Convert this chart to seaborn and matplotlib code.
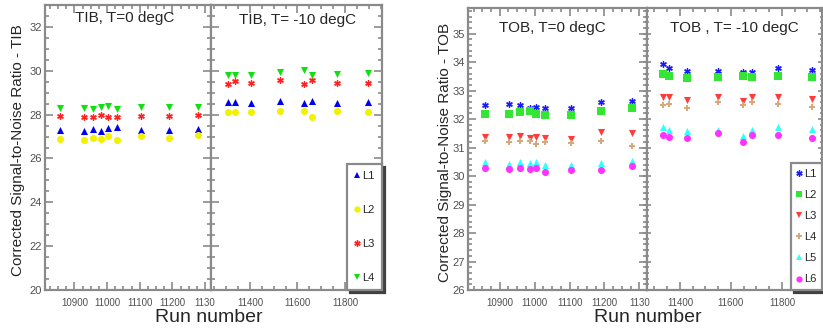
import numpy as np
import pandas as pd
import matplotlib
matplotlib.use("Agg")
import matplotlib.pyplot as plt
from matplotlib.ticker import MultipleLocator, FixedLocator
import seaborn as sns

# ── TIB data ──
TIB_RUNS_T0 = [10855, 10930, 10956, 10982, 11003, 11030, 11103, 11188, 11279]
TIB_T0 = {
    "L1": [27.30, 27.26, 27.35, 27.26, 27.41, 27.45, 27.32, 27.32, 27.36],
    "L2": [26.88, 26.82, 26.95, 26.89, 27.03, 26.86, 27.01, 26.92, 27.08],
    "L3": [27.95, 27.90, 27.90, 27.98, 27.88, 27.90, 27.95, 27.95, 27.98],
    "L4": [28.32, 28.32, 28.26, 28.33, 28.41, 28.26, 28.35, 28.33, 28.36],
}
TIB_RUNS_M10 = [11307, 11337, 11404, 11526, 11628, 11661, 11766, 11897]
TIB_M10 = {
    "L1": [28.59, 28.59, 28.51, 28.62, 28.51, 28.62, 28.51, 28.58],
    "L2": [28.14, 28.10, 28.12, 28.18, 28.15, 27.91, 28.15, 28.12],
    "L3": [29.40, 29.55, 29.42, 29.58, 29.40, 29.56, 29.42, 29.42],
    "L4": [29.80, 29.80, 29.80, 29.95, 30.05, 29.80, 29.86, 29.88],
}

# ── TOB data ──
TOB_RUNS_T0 = [10857, 10926, 10957, 10986, 11003, 11031, 11103, 11189, 11280]
TOB_T0 = {
    "L1": [32.49, 32.52, 32.49, 32.38, 32.43, 32.40, 32.40, 32.61, 32.64],
    "L2": [32.19, 32.19, 32.24, 32.28, 32.19, 32.15, 32.15, 32.27, 32.39],
    "L3": [31.36, 31.38, 31.41, 31.33, 31.36, 31.33, 31.30, 31.53, 31.51],
    "L4": [31.22, 31.20, 31.23, 31.23, 31.11, 31.18, 31.15, 31.23, 31.06],
    "L5": [30.50, 30.42, 30.50, 30.45, 30.50, 30.40, 30.39, 30.45, 30.54],
    "L6": [30.27, 30.24, 30.27, 30.25, 30.27, 30.14, 30.21, 30.21, 30.34],
}
TOB_RUNS_M10 = [11333, 11357, 11427, 11549, 11647, 11682, 11784, 11918]
TOB_M10 = {
    "L1": [33.93, 33.81, 33.69, 33.69, 33.67, 33.64, 33.78, 33.73],
    "L2": [33.60, 33.52, 33.45, 33.47, 33.52, 33.47, 33.52, 33.47],
    "L3": [32.78, 32.76, 32.68, 32.78, 32.64, 32.78, 32.76, 32.70],
    "L4": [32.49, 32.52, 32.38, 32.61, 32.49, 32.59, 32.54, 32.41],
    "L5": [31.71, 31.62, 31.59, 31.62, 31.41, 31.62, 31.71, 31.65],
    "L6": [31.45, 31.38, 31.33, 31.50, 31.18, 31.44, 31.44, 31.33],
}

# tick labels (the 11300 label is clipped to "1130" in the original)
LEFT_XTICKS = [10900, 11000, 11100, 11200, 11300]
LEFT_XLABELS = ["10900", "11000", "11100", "11200", "1130"]
RIGHT_XTICKS = [11400, 11600, 11800]
RIGHT_XLABELS = ["11400", "11600", "11800"]

ASTERISK = (6, 2, 0)
TIB_STYLE = {
    "L1": ("^", "#0000ee"),
    "L2": ("o", "#f2f200"),
    "L3": (ASTERISK, "#ff2020"),
    "L4": ("v", "#10e010"),
}
TOB_STYLE = {
    "L1": (ASTERISK, "#1a1aff"),
    "L2": ("s", "#33e633"),
    "L3": ("v", "#ff3b3b"),
    "L4": ("P", "#d9a878"),
    "L5": ("^", "#33ffff"),
    "L6": ("o", "#ff33ff"),
}

sns.set_theme(style="white")
plt.rcParams["font.family"] = ["Liberation Sans", "DejaVu Sans"]

FRAME = "#8a8a8a"
TICKC = "#505050"


def marker_size(marker):
    if marker == ASTERISK:
        return 16
    if marker == "P":
        return 18
    return 26


def draw_panel(ax, runs, series, styles, xlim, ylim, xticks, xlabels,
               ymajor, yminor, xminor, show_ylabels):
    for name, vals in series.items():
        marker, color = styles[name]
        df = pd.DataFrame({"run": runs, "snr": vals})
        kw = dict(linewidth=0) if marker != ASTERISK else dict(linewidth=1.0)
        sns.scatterplot(data=df, x="run", y="snr", marker=marker, color=color,
                        s=marker_size(marker), ax=ax, label=name, legend=False, **kw)
    ax.set_xlim(*xlim)
    ax.set_ylim(*ylim)
    ax.xaxis.set_major_locator(FixedLocator(xticks))
    ax.set_xticklabels(xlabels)
    ax.xaxis.set_minor_locator(MultipleLocator(xminor))
    ax.yaxis.set_major_locator(MultipleLocator(ymajor))
    ax.yaxis.set_minor_locator(MultipleLocator(yminor))
    ax.tick_params(which="both", direction="in", top=True, right=True,
                   left=True, bottom=True, color=FRAME, width=1.2)
    ax.tick_params(which="major", length=6)
    ax.tick_params(which="minor", length=3)
    ax.tick_params(axis="x", labelsize=7, labelcolor=TICKC, pad=6)
    ax.tick_params(axis="y", labelsize=8, labelcolor=TICKC, pad=2,
                   labelleft=show_ylabels)
    ax.set_xlabel("")
    ax.set_ylabel("")
    for sp in ax.spines.values():
        sp.set_color(FRAME)
        sp.set_linewidth(1.6)


def add_legend(ax, styles, spacing, pad):
    handles = []
    for name, (marker, color) in styles.items():
        h = plt.Line2D([], [], linestyle="none", marker=marker, color=color,
                       markersize=4.5, markeredgewidth=1 if marker == ASTERISK else 0)
        handles.append(h)
    leg = ax.legend(handles, list(styles.keys()), loc="lower right",
                    bbox_to_anchor=(1.0, 0.0), borderaxespad=0, fontsize=8,
                    handlelength=0.4, handletextpad=0.3, labelspacing=spacing,
                    borderpad=pad, fancybox=False, framealpha=1,
                    edgecolor=FRAME, shadow={"color": "#404040", "alpha": 1})
    leg.get_frame().set_linewidth(1.6)
    return leg


fig = plt.figure(figsize=(8.23, 3.33), dpi=100)
W, H = 823, 333


def axes_px(x0, x1, y0, y1):
    return fig.add_axes([x0 / W, 1 - y1 / H, (x1 - x0) / W, (y1 - y0) / H])


# ── TIB figure ──
ax1 = axes_px(45, 211, 5, 290)
ax2 = axes_px(211, 382, 5, 290)
draw_panel(ax1, TIB_RUNS_T0, TIB_T0, TIB_STYLE, (10810, 11318), (20, 33),
           LEFT_XTICKS, LEFT_XLABELS, 2, 0.5, 25, True)
draw_panel(ax2, TIB_RUNS_M10, TIB_M10, TIB_STYLE, (11236, 11956), (20, 33),
           RIGHT_XTICKS, RIGHT_XLABELS, 2, 0.5, 50, False)
add_legend(ax2, TIB_STYLE, 2.15, 0.65)
fig.text(125 / W, 1 - 18 / H, "TIB, T=0 degC", ha="center", va="center", fontsize=11)
fig.text(298 / W, 1 - 20 / H, "TIB, T= -10 degC", ha="center", va="center", fontsize=11)
fig.text(18 / W, 1 - 150 / H, "Corrected Signal-to-Noise Ratio - TIB",
         rotation=90, ha="center", va="center", fontsize=11)
fig.text(209 / W, 1 - 318 / H, "Run number", ha="center", va="center", fontsize=14)

# ── TOB figure ──
ax3 = axes_px(468, 647, 8, 290)
ax4 = axes_px(647, 822, 8, 290)
draw_panel(ax3, TOB_RUNS_T0, TOB_T0, TOB_STYLE, (10809, 11322), (26, 35.9),
           LEFT_XTICKS, LEFT_XLABELS, 1, 0.2, 25, True)
draw_panel(ax4, TOB_RUNS_M10, TOB_M10, TOB_STYLE, (11271, 11957), (26, 35.9),
           RIGHT_XTICKS, RIGHT_XLABELS, 1, 0.2, 50, False)
ax4.tick_params(axis="y", which="both", left=True, direction="inout")
add_legend(ax4, TOB_STYLE, 1.0, 0.5)
fig.text(552 / W, 1 - 28 / H, "TOB, T=0 degC", ha="center", va="center", fontsize=11)
fig.text(734 / W, 1 - 28 / H, "TOB , T= -10 degC", ha="center", va="center", fontsize=11)
fig.text(445 / W, 1 - 152 / H, "Corrected Signal-to-Noise Ratio - TOB",
         rotation=90, ha="center", va="center", fontsize=11)
fig.text(648 / W, 1 - 317 / H, "Run number", ha="center", va="center", fontsize=14)

fig.savefig("out.png", dpi=100, facecolor="white")
plt.close(fig)
